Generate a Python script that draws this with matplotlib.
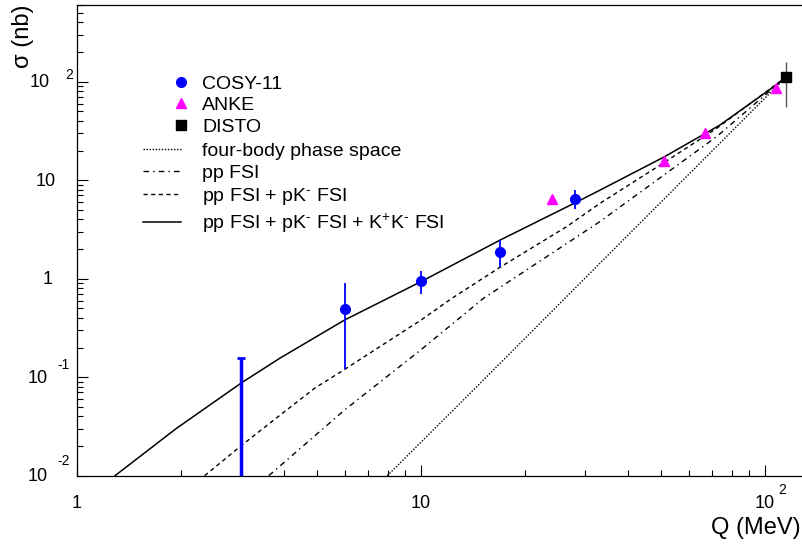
import numpy as np
import matplotlib
matplotlib.use("Agg")
import matplotlib.pyplot as plt
from matplotlib.lines import Line2D
from matplotlib.transforms import ScaledTranslation

plt.rcParams['font.family'] = ['Liberation Sans', 'DejaVu Sans']
plt.rcParams['mathtext.fontset'] = 'custom'
plt.rcParams['mathtext.rm'] = 'Liberation Sans'
plt.rcParams['mathtext.it'] = 'Liberation Sans:italic'
plt.rcParams['mathtext.bf'] = 'Liberation Sans:bold'

# ---- data (Q in MeV, sigma in nb) ----
cosy_q = [6.0, 10.0, 17.0, 28.0]
cosy_s = [0.49, 0.95, 1.88, 6.44]
cosy_lo = [0.12, 0.70, 1.31, 5.07]
cosy_hi = [0.90, 1.20, 2.47, 7.96]

cosy_limit_q = [3.0]
cosy_limit_s = [0.157]

anke_q = [24.0, 50.9, 66.9, 108.0]
anke_s = [6.44, 15.8, 29.9, 85.7]
anke_err = [0.4, 0.8, 2.2, 9.0]

disto_q = [115.0]
disto_s = [111.0]
disto_lo = [55.7]
disto_hi = [160.0]

# model curves
phase_q = [7.98, 14.2, 38.7, 115.0]
phase_s = [0.01, 0.074, 2.47, 111.0]

ppfsi_q = [3.61, 6.0, 10.0, 15.2, 33.1, 72.4, 115.0]
ppfsi_s = [0.01, 0.0465, 0.19, 0.632, 3.79, 27.7, 111.0]

pk_q = [2.35, 3.02, 3.79, 4.92, 6.0, 10.0, 12.3, 17.0, 26.5, 33.1, 50.9, 72.4, 115.0]
pk_s = [0.01, 0.0205, 0.0383, 0.0777, 0.12, 0.38, 0.632, 1.31, 3.37, 5.8, 15.1, 33.6, 111.0]

full_q = [1.29, 1.94, 2.54, 3.02, 3.89, 6.0, 10.0, 17.0, 28.0, 33.1, 50.9, 74.0, 108.0, 115.0]
full_s = [0.01, 0.030, 0.058, 0.0885, 0.156, 0.381, 0.933, 2.47, 5.87, 7.9, 17.2, 36.3, 93.0, 111.0]

legend_markers = ['COSY-11', 'ANKE', 'DISTO']
legend_lines = ['four-body phase space', 'pp FSI', r'pp FSI + pK$^{\text{-}}$ FSI',
                r'pp FSI + pK$^{\text{-}}$ FSI + K$^{+}$K$^{\text{-}}$ FSI']

W, H = 803, 547
fig = plt.figure(figsize=(W / 100, H / 100), dpi=100)
ax = fig.add_axes([77 / W, (H - 475.7) / H, 1 - 77 / W, (475.7 - 5) / H])
ax.set_xscale('log')
ax.set_yscale('log')
ax.set_xlim(1, 129)
ax.set_ylim(0.01, 600)

# curves
ax.plot(phase_q, phase_s, color='k', lw=1.0, linestyle=(0, (1, 1.2)))
ax.plot(ppfsi_q, ppfsi_s, color='k', lw=1.0, linestyle=(0, (4, 3, 1, 3)))
ax.plot(pk_q, pk_s, color='k', lw=1.0, linestyle=(0, (3, 2.5)))
ax.plot(full_q, full_s, color='k', lw=1.1)

# data points
cosy_err = [np.array(cosy_s) - np.array(cosy_lo), np.array(cosy_hi) - np.array(cosy_s)]
ax.errorbar(cosy_q, cosy_s, yerr=cosy_err, fmt='o', color='blue', ms=7,
            elinewidth=1.3, capsize=0, zorder=5)
ax.errorbar(cosy_limit_q, cosy_limit_s, yerr=[[cosy_limit_s[0] - 0.001], [0]],
            fmt='none', ecolor='blue', elinewidth=2.5, capsize=3, capthick=2, zorder=5)
ax.errorbar(anke_q, anke_s, yerr=anke_err, fmt='^', color='magenta', ms=7,
            elinewidth=1.0, capsize=0, zorder=5)
disto_err = [np.array(disto_s) - np.array(disto_lo), np.array(disto_hi) - np.array(disto_s)]
ax.errorbar(disto_q, disto_s, yerr=disto_err, fmt='s', color='k', ecolor='0.35', ms=7,
            elinewidth=1.0, capsize=0, zorder=6)

# axes styling (ROOT look)
ax.spines['right'].set_visible(False)
for s in ['left', 'bottom', 'top']:
    ax.spines[s].set_linewidth(0.9)
ax.tick_params(which='both', direction='in', top=False, right=False,
               labelleft=False, labelbottom=False, width=0.8)
ax.tick_params(which='major', length=8)
ax.tick_params(which='minor', length=4)

# tick labels in ROOT style: base and raised exponent
fs = 13
def px(dx, dy=0):
    return ScaledTranslation(dx / 100, dy / 100, fig.dpi_scale_trans)

ytick_vals = [1e-2, 1e-1, 1, 10, 1e2]
ytick_base = ['10', '10', '1', '10', '10']
ytick_exp = ['-2', '-1', '', '', '2']
ybase_right = [48, 48, 53, 56, 50]
yexp_left = [57, 57, 0, 0, 65]
yexp_up = [15, 12, 0, 0, 7]
for v, b, e, xr, xl, up in zip(ytick_vals, ytick_base, ytick_exp, ybase_right, yexp_left, yexp_up):
    ax.text(0, v, b, transform=ax.get_yaxis_transform() + px(xr - 77, -1),
            ha='right', va='center', fontsize=fs)
    if e:
        ax.text(0, v, e, transform=ax.get_yaxis_transform() + px(xl - 77, up),
                ha='left', va='center', fontsize=10)

xtick_vals = [1, 10, 100]
xtick_base = ['1', '10', '10']
xtick_exp = ['', '', '2']
for v, b, e in zip(xtick_vals, xtick_base, xtick_exp):
    ax.text(v, 0, b, transform=ax.get_xaxis_transform() + px(0, -27.5),
            ha='center', va='center', fontsize=fs)
    if e:
        ax.text(v, 0, e, transform=ax.get_xaxis_transform() + px(13, -14.5),
                ha='left', va='center', fontsize=10)

fig.text(801 / W, (H - 528) / H, 'Q (MeV)', ha='right', va='center', fontsize=17)
fig.text(23 / W, 1 - 5 / H, 'σ (nb)', ha='center', va='top', rotation=90, fontsize=17)

# legends
lfs = 14
mk_handles = [Line2D([], [], marker='o', color='blue', ls='none', ms=7),
              Line2D([], [], marker='^', color='magenta', ls='none', ms=7),
              Line2D([], [], marker='s', color='k', ls='none', ms=7)]
leg1 = ax.legend(mk_handles, legend_markers, loc='upper left',
                 bbox_to_anchor=(171.3 / W, 1 - 75 / H), bbox_transform=fig.transFigure,
                 frameon=False, borderpad=0, borderaxespad=0, handlelength=1.0,
                 handletextpad=0.58, labelspacing=0.2, fontsize=lfs)
ax.add_artist(leg1)
ln_handles = [Line2D([], [], color='k', lw=1.0, ls=(0, (1, 1.2))),
              Line2D([], [], color='k', lw=1.0, ls=(0, (4, 3, 1, 3))),
              Line2D([], [], color='k', lw=1.0, ls=(0, (3, 2.5))),
              Line2D([], [], color='k', lw=1.1)]
ax.legend(ln_handles, legend_lines, loc='upper left',
          bbox_to_anchor=(143 / W, 1 - 142 / H), bbox_transform=fig.transFigure,
          frameon=False, borderpad=0, borderaxespad=0, handlelength=1.955,
          handletextpad=1.08, labelspacing=0.23, fontsize=lfs)

fig.savefig('out.png', dpi=100)
